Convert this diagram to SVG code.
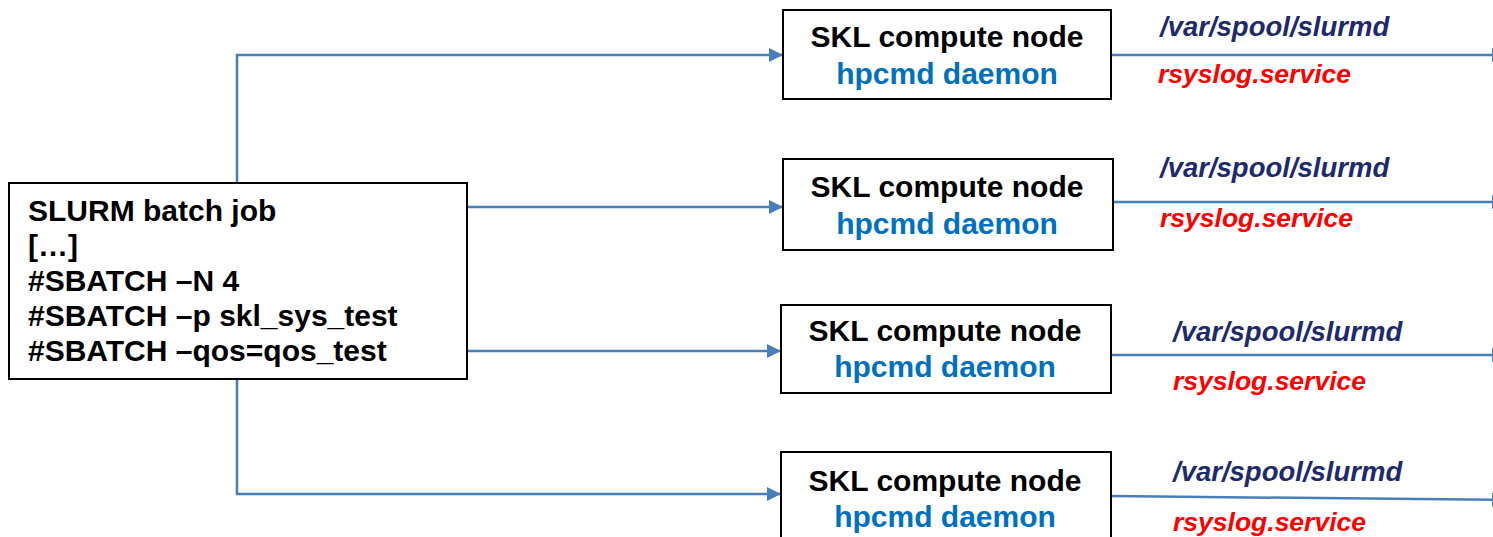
<svg xmlns="http://www.w3.org/2000/svg" width="1493" height="537" viewBox="0 0 1493 537">
<defs>
<style>
.box{fill:#fff;stroke:#000;stroke-width:2}
.t{font-family:"Liberation Sans",Arial,sans-serif;font-weight:bold}
.hd{font-size:30px;fill:#000}
.dm{font-size:30px;fill:#0070C0}
.jb{font-size:30px;fill:#000}
.path{font-size:27.5px;font-style:italic;fill:#1F2A6B}
.rs{font-size:26.5px;font-style:italic;fill:#FF0000}
.c{fill:none;stroke:#4A7EBB;stroke-width:2.5}
</style>
<marker id="ah" viewBox="0 0 14 14" refX="14" refY="7" markerWidth="14" markerHeight="14" markerUnits="userSpaceOnUse" orient="auto">
<path d="M0,0 L14,7 L0,14 Z" fill="#4A7EBB"/>
</marker>
</defs>
<rect width="1493" height="537" fill="#fff"/>
<g id="connectors">
<path class="c" d="M237,183 V55 H783" marker-end="url(#ah)"/>
<path class="c" d="M467,207 H783" marker-end="url(#ah)"/>
<path class="c" d="M467,351 H781" marker-end="url(#ah)"/>
<path class="c" d="M237,379 V494 H781" marker-end="url(#ah)"/>
<path class="c" d="M1111,55 H1506" marker-end="url(#ah)"/>
<path class="c" d="M1113,202 H1506" marker-end="url(#ah)"/>
<path class="c" d="M1111,355 H1506" marker-end="url(#ah)"/>
<path class="c" d="M1111,496 L1506,500" marker-end="url(#ah)"/>
</g>
<g id="job">
<rect class="box" x="9" y="183" width="458" height="196"/>
<text class="t jb" x="28" y="221">SLURM batch job</text>
<text class="t jb" x="28" y="256">[…]</text>
<text class="t jb" x="28" y="291">#SBATCH –N 4</text>
<text class="t jb" x="28" y="326">#SBATCH –p skl_sys_test</text>
<text class="t jb" x="28" y="361">#SBATCH –qos=qos_test</text>
</g>
<g id="node1">
<rect class="box" x="783" y="10" width="328" height="89"/>
<text class="t hd" x="947" y="47" text-anchor="middle">SKL compute node</text>
<text class="t dm" x="947" y="84" text-anchor="middle">hpcmd daemon</text>
</g>
<g id="node2">
<rect class="box" x="783" y="159" width="330" height="91"/>
<text class="t hd" x="947" y="197" text-anchor="middle">SKL compute node</text>
<text class="t dm" x="947" y="234" text-anchor="middle">hpcmd daemon</text>
</g>
<g id="node3">
<rect class="box" x="781" y="305" width="330" height="88"/>
<text class="t hd" x="945" y="341" text-anchor="middle">SKL compute node</text>
<text class="t dm" x="945" y="377" text-anchor="middle">hpcmd daemon</text>
</g>
<g id="node4">
<rect class="box" x="781" y="452" width="330" height="100"/>
<text class="t hd" x="945" y="491" text-anchor="middle">SKL compute node</text>
<text class="t dm" x="945" y="527" text-anchor="middle">hpcmd daemon</text>
</g>
<g id="labels">
<text class="t path" x="1160" y="36">/var/spool/slurmd</text>
<text class="t rs" x="1158" y="83">rsyslog.service</text>
<text class="t path" x="1160" y="177">/var/spool/slurmd</text>
<text class="t rs" x="1160" y="227">rsyslog.service</text>
<text class="t path" x="1173" y="341">/var/spool/slurmd</text>
<text class="t rs" x="1173" y="390">rsyslog.service</text>
<text class="t path" x="1173" y="481">/var/spool/slurmd</text>
<text class="t rs" x="1173" y="531">rsyslog.service</text>
</g>
</svg>
